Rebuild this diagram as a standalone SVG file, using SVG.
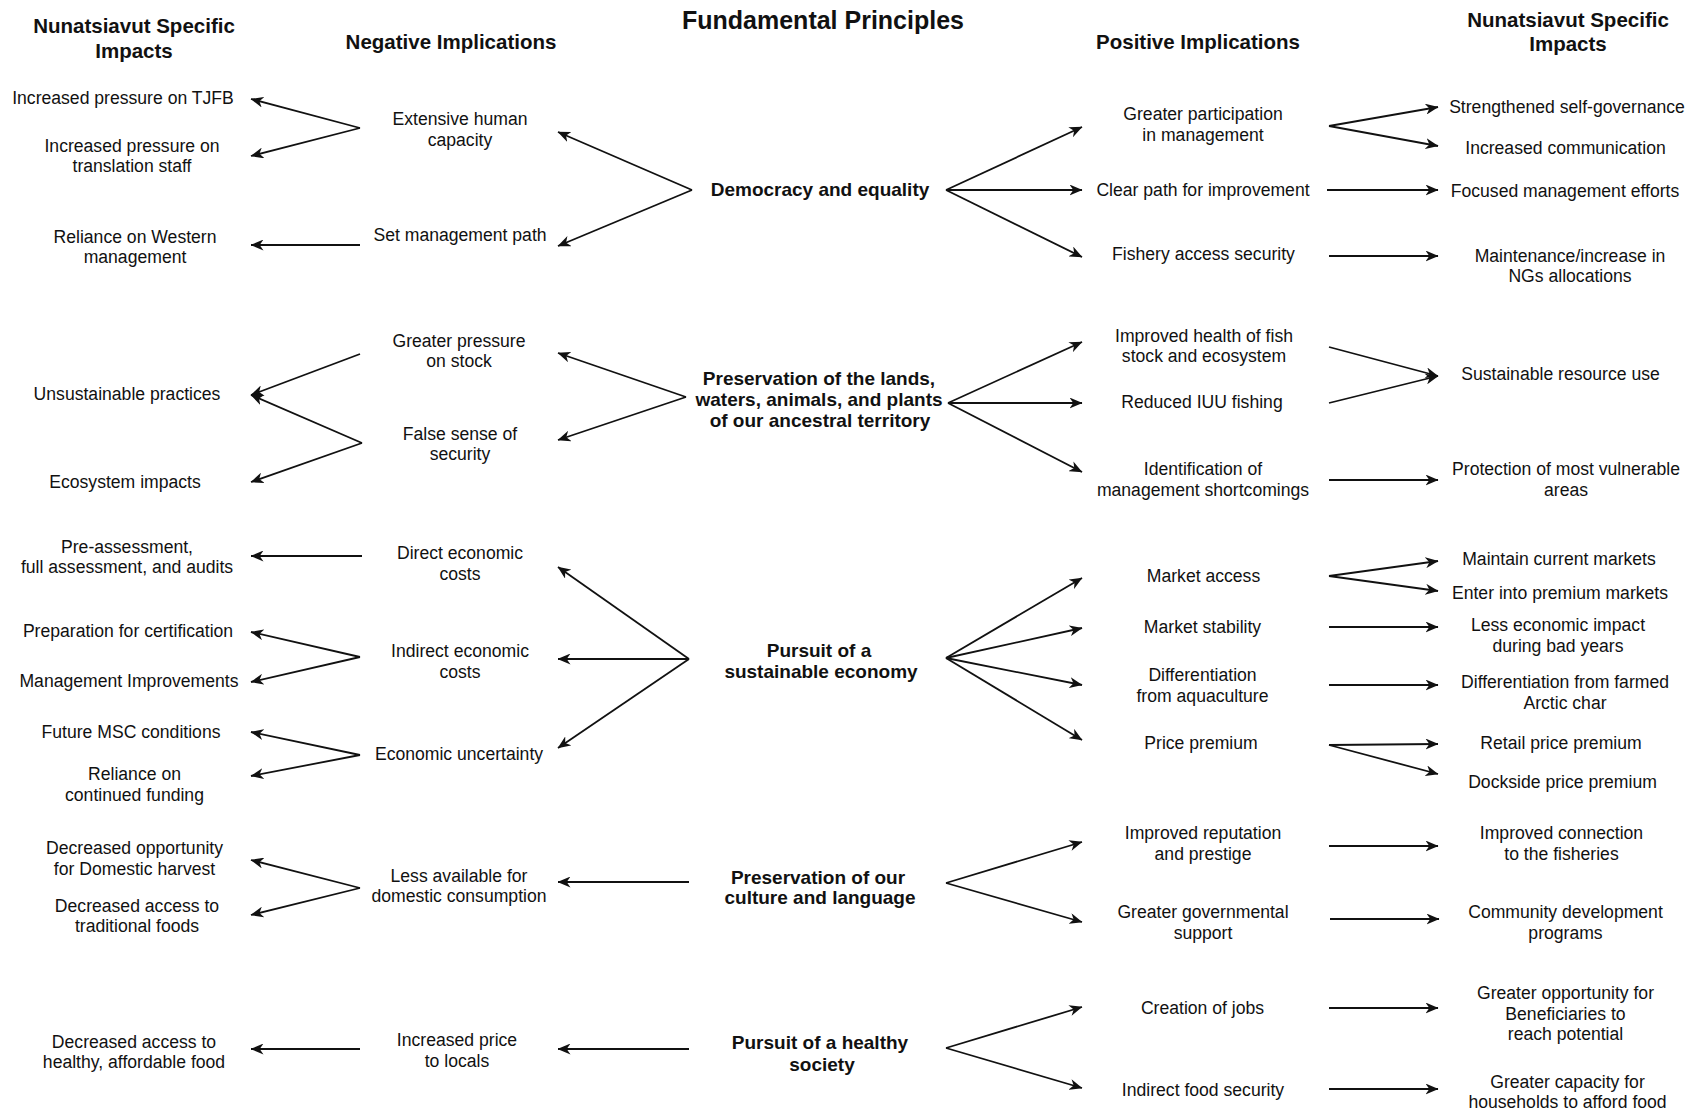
<svg xmlns="http://www.w3.org/2000/svg" width="1697" height="1113" viewBox="0 0 1697 1113">
<style>
text{font-family:"Liberation Sans",Arial,Helvetica,sans-serif;fill:#111;text-anchor:middle}
.t{font-size:25px;font-weight:bold}
.h{font-size:20.5px;font-weight:bold}
.p{font-size:19px;font-weight:bold}
.n{font-size:17.6px}
.c line{stroke:#111;stroke-width:1.8;fill:none;marker-end:url(#ah)}
</style>
<defs>
<marker id="ah" viewBox="0 0 13 11" refX="12.5" refY="5.5" markerWidth="13" markerHeight="11" markerUnits="userSpaceOnUse" orient="auto">
<path d="M0,0 L13,5.5 L0,11 L3.8,5.5 Z" fill="#111"/>
</marker>
</defs>
<rect width="1697" height="1113" fill="#fff"/>

<g id="headers">
<text class="t" x="823" y="29">Fundamental Principles</text>
<text class="h" x="134" y="33"><tspan x="134">Nunatsiavut Specific</tspan><tspan x="134" y="57.5">Impacts</tspan></text>
<text class="h" x="451" y="49">Negative Implications</text>
<text class="h" x="1198" y="49">Positive Implications</text>
<text class="h" x="1568" y="27"><tspan x="1568">Nunatsiavut Specific</tspan><tspan x="1568" y="51">Impacts</tspan></text>
</g>

<g id="principles">
<g id="p-democracy"><text class="p" x="820" y="196">Democracy and equality</text></g>
<g id="p-lands"><text class="p" x="819" y="385"><tspan x="819">Preservation of the lands,</tspan><tspan x="819" y="406">waters, animals, and plants</tspan><tspan x="820" y="427">of our ancestral territory</tspan></text></g>
<g id="p-economy"><text class="p" x="820" y="657"><tspan x="819">Pursuit of a</tspan><tspan x="821" y="678">sustainable economy</tspan></text></g>
<g id="p-culture"><text class="p" x="819" y="884"><tspan x="818">Preservation of our</tspan><tspan x="820" y="904">culture and language</tspan></text></g>
<g id="p-healthy"><text class="p" x="820" y="1049"><tspan x="820">Pursuit of a healthy</tspan><tspan x="822" y="1071">society</tspan></text></g>
</g>

<g id="negative">
<g id="n-human"><text class="n" x="460" y="125"><tspan x="460">Extensive human</tspan><tspan x="460" y="145.5">capacity</tspan></text></g>
<g id="n-path"><text class="n" x="460" y="241">Set management path</text></g>
<g id="n-pressure"><text class="n" x="459" y="347"><tspan x="459">Greater pressure</tspan><tspan x="459" y="367">on stock</tspan></text></g>
<g id="n-false"><text class="n" x="460" y="440"><tspan x="460">False sense of</tspan><tspan x="460" y="460">security</tspan></text></g>
<g id="n-direct"><text class="n" x="460" y="559"><tspan x="460">Direct economic</tspan><tspan x="460" y="579.5">costs</tspan></text></g>
<g id="n-indirect"><text class="n" x="460" y="657"><tspan x="460">Indirect economic</tspan><tspan x="460" y="677.5">costs</tspan></text></g>
<g id="n-uncertainty"><text class="n" x="459" y="760">Economic uncertainty</text></g>
<g id="n-less"><text class="n" x="459" y="882"><tspan x="459">Less available for</tspan><tspan x="459" y="902">domestic consumption</tspan></text></g>
<g id="n-price"><text class="n" x="457" y="1046"><tspan x="457">Increased price</tspan><tspan x="457" y="1066.5">to locals</tspan></text></g>
</g>

<g id="negative-impacts">
<g id="ni-tjfb"><text class="n" x="123" y="104">Increased pressure on TJFB</text></g>
<g id="ni-translation"><text class="n" x="132" y="151.5"><tspan x="132">Increased pressure on</tspan><tspan x="132" y="172">translation staff</tspan></text></g>
<g id="ni-western"><text class="n" x="135" y="242.5"><tspan x="135">Reliance on Western</tspan><tspan x="135" y="263">management</tspan></text></g>
<g id="ni-unsustainable"><text class="n" x="127" y="400">Unsustainable practices</text></g>
<g id="ni-ecosystem"><text class="n" x="125" y="487.5">Ecosystem impacts</text></g>
<g id="ni-assessment"><text class="n" x="127" y="552.5"><tspan x="127">Pre-assessment,</tspan><tspan x="127" y="573">full assessment, and audits</tspan></text></g>
<g id="ni-preparation"><text class="n" x="128" y="636.5">Preparation for certification</text></g>
<g id="ni-mgmt"><text class="n" x="129" y="686.5">Management Improvements</text></g>
<g id="ni-msc"><text class="n" x="131" y="738">Future MSC conditions</text></g>
<g id="ni-funding"><text class="n" x="134.5" y="780"><tspan x="134.5">Reliance on</tspan><tspan x="134.5" y="800.5">continued funding</tspan></text></g>
<g id="ni-opportunity"><text class="n" x="134.5" y="854"><tspan x="134.5">Decreased opportunity</tspan><tspan x="134.5" y="874.5">for Domestic harvest</tspan></text></g>
<g id="ni-traditional"><text class="n" x="137" y="911.5"><tspan x="137">Decreased access to</tspan><tspan x="137" y="932">traditional foods</tspan></text></g>
<g id="ni-healthy"><text class="n" x="134" y="1047.5"><tspan x="134">Decreased access to</tspan><tspan x="134" y="1068">healthy, affordable food</tspan></text></g>
</g>

<g id="positive">
<g id="ps-participation"><text class="n" x="1203" y="120"><tspan x="1203">Greater participation</tspan><tspan x="1203" y="140.5">in management</tspan></text></g>
<g id="ps-clear"><text class="n" x="1203" y="196">Clear path for improvement</text></g>
<g id="ps-fishery"><text class="n" x="1203.5" y="260">Fishery access security</text></g>
<g id="ps-health"><text class="n" x="1204" y="341.5"><tspan x="1204">Improved health of fish</tspan><tspan x="1204" y="362">stock and ecosystem</tspan></text></g>
<g id="ps-iuu"><text class="n" x="1202" y="408">Reduced IUU fishing</text></g>
<g id="ps-identification"><text class="n" x="1203" y="475"><tspan x="1203">Identification of</tspan><tspan x="1203" y="495.5">management shortcomings</tspan></text></g>
<g id="ps-access"><text class="n" x="1203.5" y="582">Market access</text></g>
<g id="ps-stability"><text class="n" x="1202.5" y="633">Market stability</text></g>
<g id="ps-diff"><text class="n" x="1202.5" y="680.5"><tspan x="1202.5">Differentiation</tspan><tspan x="1202.5" y="701.5">from aquaculture</tspan></text></g>
<g id="ps-premium"><text class="n" x="1201" y="749">Price premium</text></g>
<g id="ps-reputation"><text class="n" x="1203" y="839"><tspan x="1203">Improved reputation</tspan><tspan x="1203" y="859.5">and prestige</tspan></text></g>
<g id="ps-governmental"><text class="n" x="1203" y="918"><tspan x="1203">Greater governmental</tspan><tspan x="1203" y="938.5">support</tspan></text></g>
<g id="ps-jobs"><text class="n" x="1202.5" y="1014">Creation of jobs</text></g>
<g id="ps-food"><text class="n" x="1203" y="1095.5">Indirect food security</text></g>
</g>

<g id="positive-impacts">
<g id="pi-governance"><text class="n" x="1567" y="113">Strengthened self-governance</text></g>
<g id="pi-communication"><text class="n" x="1565.5" y="154">Increased communication</text></g>
<g id="pi-focused"><text class="n" x="1565" y="197">Focused management efforts</text></g>
<g id="pi-allocations"><text class="n" x="1570" y="261.5"><tspan x="1570">Maintenance/increase in</tspan><tspan x="1570" y="282">NGs allocations</tspan></text></g>
<g id="pi-sustainable"><text class="n" x="1560.5" y="380">Sustainable resource use</text></g>
<g id="pi-protection"><text class="n" x="1566" y="475"><tspan x="1566">Protection of most vulnerable</tspan><tspan x="1566" y="495.5">areas</tspan></text></g>
<g id="pi-maintain"><text class="n" x="1559" y="565">Maintain current markets</text></g>
<g id="pi-enter"><text class="n" x="1560" y="598.5">Enter into premium markets</text></g>
<g id="pi-less"><text class="n" x="1558" y="630.5"><tspan x="1558">Less economic impact</tspan><tspan x="1558" y="651.5">during bad years</tspan></text></g>
<g id="pi-farmed"><text class="n" x="1565" y="688"><tspan x="1565">Differentiation from farmed</tspan><tspan x="1565" y="709">Arctic char</tspan></text></g>
<g id="pi-retail"><text class="n" x="1561" y="749">Retail price premium</text></g>
<g id="pi-dockside"><text class="n" x="1562.5" y="788">Dockside price premium</text></g>
<g id="pi-connection"><text class="n" x="1561.5" y="839"><tspan x="1561.5">Improved connection</tspan><tspan x="1561.5" y="859.5">to the fisheries</tspan></text></g>
<g id="pi-community"><text class="n" x="1565.5" y="918"><tspan x="1565.5">Community development</tspan><tspan x="1565.5" y="938.5">programs</tspan></text></g>
<g id="pi-opportunity"><text class="n" x="1565.5" y="999"><tspan x="1565.5">Greater opportunity for</tspan><tspan x="1565.5" y="1019.5">Beneficiaries to</tspan><tspan x="1565.5" y="1040">reach potential</tspan></text></g>
<g id="pi-capacity"><text class="n" x="1567.5" y="1087.5"><tspan x="1567.5">Greater capacity for</tspan><tspan x="1567.5" y="1108">households to afford food</tspan></text></g>
</g>

<g id="connectors" class="c">
<line x1="692" y1="190" x2="558" y2="132"/>
<line x1="692" y1="190" x2="558" y2="246"/>
<line x1="946" y1="190" x2="1082" y2="127"/>
<line x1="946" y1="190" x2="1082" y2="190"/>
<line x1="946" y1="190" x2="1082" y2="257"/>
<line x1="360" y1="128" x2="251" y2="99"/>
<line x1="360" y1="128" x2="251" y2="156"/>
<line x1="360" y1="245" x2="251" y2="245"/>
<line x1="1329" y1="126" x2="1438" y2="107"/>
<line x1="1329" y1="126" x2="1438" y2="146"/>
<line x1="1327" y1="190" x2="1438" y2="190"/>
<line x1="1329" y1="256" x2="1438" y2="256"/>
<line x1="686" y1="397" x2="558" y2="353"/>
<line x1="686" y1="397" x2="558" y2="440"/>
<line x1="948" y1="403" x2="1082" y2="342"/>
<line x1="948" y1="403" x2="1082" y2="403"/>
<line x1="948" y1="403" x2="1082" y2="472"/>
<line x1="360" y1="354" x2="251" y2="395"/>
<line x1="362" y1="443" x2="251" y2="395"/>
<line x1="362" y1="443" x2="251" y2="482"/>
<line x1="1329" y1="347" x2="1438" y2="376"/>
<line x1="1329" y1="403" x2="1438" y2="376"/>
<line x1="1329" y1="480" x2="1438" y2="480"/>
<line x1="689" y1="659" x2="558" y2="567"/>
<line x1="689" y1="659" x2="558" y2="659"/>
<line x1="689" y1="659" x2="558" y2="748"/>
<line x1="946" y1="658" x2="1082" y2="578"/>
<line x1="946" y1="658" x2="1082" y2="628"/>
<line x1="946" y1="658" x2="1082" y2="685"/>
<line x1="946" y1="658" x2="1082" y2="740"/>
<line x1="362" y1="556" x2="251" y2="556"/>
<line x1="360" y1="657" x2="251" y2="632"/>
<line x1="360" y1="657" x2="251" y2="682"/>
<line x1="360" y1="755" x2="251" y2="732"/>
<line x1="360" y1="755" x2="251" y2="776"/>
<line x1="1329" y1="576" x2="1438" y2="561"/>
<line x1="1329" y1="576" x2="1438" y2="591"/>
<line x1="1329" y1="627" x2="1438" y2="627"/>
<line x1="1329" y1="685" x2="1438" y2="685"/>
<line x1="1329" y1="745" x2="1438" y2="744"/>
<line x1="1329" y1="745" x2="1438" y2="774"/>
<line x1="689" y1="882" x2="558" y2="882"/>
<line x1="946" y1="883" x2="1082" y2="842"/>
<line x1="946" y1="883" x2="1082" y2="922"/>
<line x1="360" y1="888" x2="251" y2="860"/>
<line x1="360" y1="888" x2="251" y2="915"/>
<line x1="1329" y1="846" x2="1438" y2="846"/>
<line x1="1330" y1="919" x2="1439" y2="919"/>
<line x1="689" y1="1049" x2="558" y2="1049"/>
<line x1="946" y1="1048" x2="1082" y2="1007"/>
<line x1="946" y1="1048" x2="1082" y2="1088"/>
<line x1="360" y1="1049" x2="251" y2="1049"/>
<line x1="1329" y1="1008" x2="1438" y2="1008"/>
<line x1="1329" y1="1089" x2="1438" y2="1089"/>
</g>
</svg>
